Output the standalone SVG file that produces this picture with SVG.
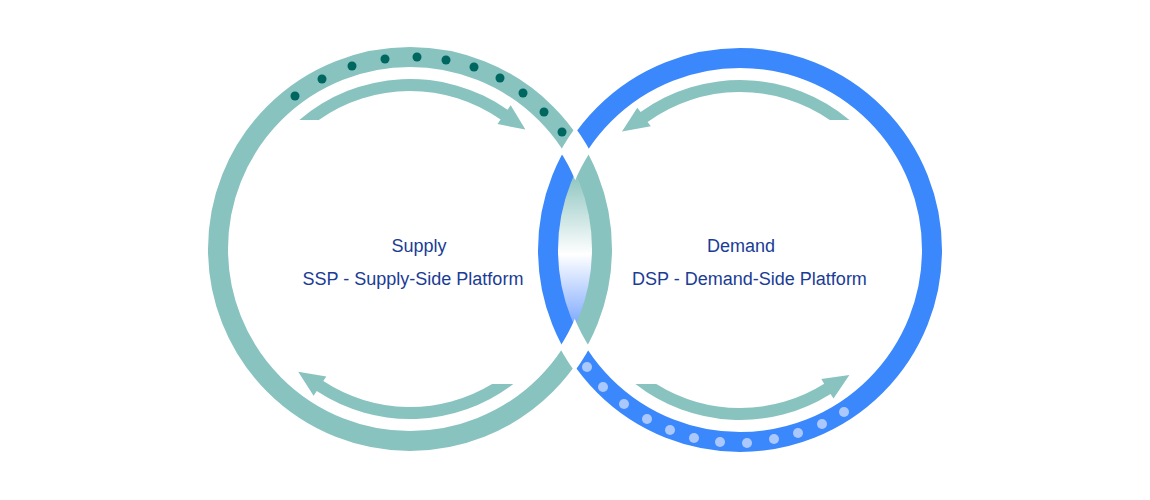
<svg xmlns="http://www.w3.org/2000/svg" width="1150" height="500" viewBox="0 0 1150 500">
  <defs>
    <style>
      .teal-ring { fill: none; stroke: #88c3c0; stroke-width: 20; }
      .blue-ring { fill: none; stroke: #3b88fd; stroke-width: 20; }
      .gap { fill: none; stroke: #ffffff; stroke-width: 26; }
      .arrow { fill: #88c3c0; stroke: none; }
      .dot-dark { fill: #006660; }
      .dot-light { fill: #abc8fd; }
      .label { font-family: "Liberation Sans", Arial, sans-serif; font-size: 18px; fill: #1a3c96; text-anchor: middle; }
    </style>
    <linearGradient id="lensGrad" gradientUnits="userSpaceOnUse" x1="0" y1="168" x2="0" y2="334">
      <stop offset="0" stop-color="#84c0bb"/>
      <stop offset="0.52" stop-color="#ffffff"/>
      <stop offset="1" stop-color="#6d9eff"/>
    </linearGradient>
    <clipPath id="clipRightDisc">
      <circle cx="740" cy="250" r="192"/>
    </clipPath>
    <clipPath id="clipLeftAnnulus">
      <path clip-rule="evenodd" d="M205,249 a205,205 0 1,0 410,0 a205,205 0 1,0 -410,0 Z M231,249 a179,179 0 1,0 358,0 a179,179 0 1,0 -358,0 Z"/>
    </clipPath>
  </defs>

  <g id="lens">
    <circle cx="410" cy="249" r="192" fill="url(#lensGrad)" clip-path="url(#clipRightDisc)"/>
  </g>

  <g id="supply">
    <circle class="teal-ring" cx="410" cy="249" r="192"/>
  </g>

  <g id="demand">
    <circle class="blue-ring" cx="740" cy="250" r="192"/>
  </g>

  <g id="crossing-gaps">
    <circle class="gap" cx="740" cy="250" r="192" clip-path="url(#clipLeftAnnulus)"/>
  </g>

  <g id="supply-dots">
    <circle class="dot-dark" cx="295" cy="96" r="4.5"/>
    <circle class="dot-dark" cx="322" cy="79" r="4.5"/>
    <circle class="dot-dark" cx="352" cy="66" r="4.5"/>
    <circle class="dot-dark" cx="385" cy="59" r="4.5"/>
    <circle class="dot-dark" cx="417" cy="57" r="4.5"/>
    <circle class="dot-dark" cx="446" cy="60" r="4.5"/>
    <circle class="dot-dark" cx="474" cy="67" r="4.5"/>
    <circle class="dot-dark" cx="500" cy="78" r="4.5"/>
    <circle class="dot-dark" cx="523" cy="93" r="4.5"/>
    <circle class="dot-dark" cx="544" cy="112" r="4.5"/>
    <circle class="dot-dark" cx="562" cy="132" r="4.5"/>
  </g>

  <g id="demand-dots">
    <circle class="dot-light" cx="587" cy="367" r="5"/>
    <circle class="dot-light" cx="603" cy="387" r="5"/>
    <circle class="dot-light" cx="624" cy="404" r="5"/>
    <circle class="dot-light" cx="647" cy="419" r="5"/>
    <circle class="dot-light" cx="670" cy="430" r="5"/>
    <circle class="dot-light" cx="694" cy="438" r="5"/>
    <circle class="dot-light" cx="720" cy="442" r="5"/>
    <circle class="dot-light" cx="747" cy="443" r="5"/>
    <circle class="dot-light" cx="774" cy="439" r="5"/>
    <circle class="dot-light" cx="798" cy="433" r="5"/>
    <circle class="dot-light" cx="822" cy="424" r="5"/>
    <circle class="dot-light" cx="844" cy="412" r="5"/>
  </g>

  <g id="connectors">
    <path class="arrow" d="M299.3,120 A170,170 0 0 1 507.5,109.7 L510.7,105.2 L525.4,129.6 L497.5,124.1 L500.6,119.6 A158,158 0 0 0 318.8,120 Z"/>
    <path class="arrow" d="M513.3,384 A170,170 0 0 1 316.7,391.1 L313.6,395.7 L298.2,371.8 L326.3,376.5 L323.3,381.1 A158,158 0 0 0 492.1,384 Z"/>
    <path class="arrow" d="M849.5,120 A170,170 0 0 0 640.6,112.1 L637.3,107.7 L622,131.5 L650.8,126.3 L647.6,121.9 A158,158 0 0 1 829.8,120 Z"/>
    <path class="arrow" d="M635.4,384 A170,170 0 0 0 830.6,393.9 L833.5,398.5 L849.4,374.9 L821.3,379 L824.2,383.7 A158,158 0 0 1 656.3,384 Z"/>
  </g>

  <g id="supply-label">
    <text class="label" x="419" y="252">Supply</text>
    <text class="label" x="413" y="285">SSP - Supply-Side Platform</text>
  </g>

  <g id="demand-label">
    <text class="label" x="741" y="252">Demand</text>
    <text class="label" x="749.5" y="285">DSP - Demand-Side Platform</text>
  </g>
</svg>
